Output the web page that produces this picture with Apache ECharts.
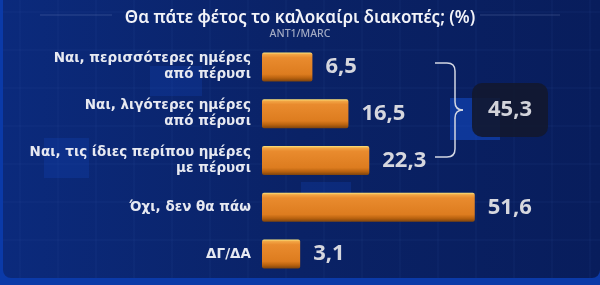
<!DOCTYPE html>
<html><head><meta charset="utf-8">
<script src="https://cdn.jsdelivr.net/npm/echarts@6/dist/echarts.min.js"></script>
<style>html,body{margin:0;padding:0;background:#0a2266;}#c{width:600px;height:285px;}</style>
</head><body><div id="c"></div>
<script>
const categories = ["Ναι, περισσότερες ημέρες\nαπό πέρυσι", "Ναι, λιγότερες ημέρες\nαπό πέρυσι", "Ναι, τις ίδιες περίπου ημέρες\nμε πέρυσι", "Όχι, δεν θα πάω", "ΔΓ/ΔΑ"];
const values = [6.5, 16.5, 22.3, 51.6, 3.1];
const yesTotal = 45.3;
const titleText = "Θα πάτε φέτος το καλοκαίρι διακοπές; (%)";
const sourceText = "ANT1/MARC";

const BASE = 7.5; // visual stub at bar start
const fmt = v => String(v).replace('.', ',');
const barGrad = new echarts.graphic.LinearGradient(0, 0, 0, 1, [
  {offset: 0, color: '#fbe57c'}, {offset: 0.07, color: '#f2a444'},
  {offset: 0.18, color: '#e98b2e'}, {offset: 0.75, color: '#dd7c1f'},
  {offset: 0.88, color: '#b9620f'}, {offset: 1, color: '#7d430d'}]);

const chart = echarts.init(document.getElementById('c'), null, {renderer: 'canvas'});
const bgLines = [];
for (let x = 20; x < 600; x += 38) bgLines.push({type: 'line', silent: true, z: -9, shape: {x1: x, y1: 0, x2: x, y2: 278}, style: {stroke: 'rgba(80,120,210,0.10)', lineWidth: 1}});
for (let y = 12; y < 278; y += 38) bgLines.push({type: 'line', silent: true, z: -9, shape: {x1: 3, y1: y, x2: 600, y2: y}, style: {stroke: 'rgba(80,120,210,0.10)', lineWidth: 1}});

const braceStyle = {stroke: '#d3d7e3', lineWidth: 1.5, fill: 'none'};
const L = (x1, y1, x2, y2) => ({type: 'line', silent: true, z: 4, shape: {x1, y1, x2, y2}, style: braceStyle});
const Q = (x1, y1, cx, cy, x2, y2) => ({type: 'bezierCurve', silent: true, z: 4, shape: {x1, y1, cpx1: cx, cpy1: cy, x2, y2}, style: braceStyle});
const brace = [
  L(435, 63, 447, 63), Q(447, 63, 455, 63, 455, 71), L(455, 71, 455, 102), Q(455, 102, 455, 110, 463, 110),
  Q(463, 110, 455, 110, 455, 118), L(455, 118, 455, 149), Q(455, 149, 455, 157, 447, 157), L(447, 157, 435, 157)
];

chart.setOption({
  animation: false,
  backgroundColor: '#0b3aa8',
  title: [
    {text: titleText, left: 'center', top: 5, textStyle: {fontFamily: 'Noto Sans', fontSize: 17, fontWeight: 600, color: '#f2f3f8'}},
    {text: sourceText, left: 'center', top: 24, textStyle: {fontFamily: 'Noto Sans', fontSize: 10.5, fontWeight: 500, color: '#a3abc4'}}
  ],
  grid: {left: 262, right: 50, top: 43.6, bottom: 7.6},
  xAxis: {type: 'value', min: 0, max: 80, show: false},
  yAxis: {type: 'category', data: categories, inverse: true,
    axisLine: {show: false}, axisTick: {show: false}, splitLine: {show: false},
    axisLabel: {margin: 11, fontFamily: 'DejaVu Sans', fontSize: 13.5, fontWeight: 700, color: '#e7e9f1', lineHeight: 16, align: 'right'}},
  graphic: [
    {type: 'rect', z: -10, silent: true, shape: {x: 3, y: -12, width: 597, height: 290, r: 8},
      style: {fill: new echarts.graphic.LinearGradient(0, 0, 1, 0, [{offset: 0, color: '#0b2a7c'}, {offset: 0.5, color: '#0a2266'}, {offset: 1, color: '#081d5c'}])}},
    ...bgLines,
    {type: 'rect', z: -8, silent: true, shape: {x: 150, y: 66, width: 52, height: 30}, style: {fill: 'rgba(20,70,190,0.25)'}},
    {type: 'rect', z: -8, silent: true, shape: {x: 44, y: 138, width: 45, height: 40}, style: {fill: 'rgba(20,70,190,0.25)'}},
    {type: 'rect', z: -8, silent: true, shape: {x: 301, y: 182, width: 50, height: 40}, style: {fill: 'rgba(20,70,190,0.25)'}},
    {type: 'rect', z: -8, silent: true, shape: {x: 450, y: 98, width: 50, height: 42}, style: {fill: 'rgba(20,80,210,0.5)'}},
    {type: 'line', silent: true, shape: {x1: 40, y1: 15, x2: 112, y2: 15}, style: {stroke: 'rgba(150,170,220,0.25)', lineWidth: 1}},
    {type: 'line', silent: true, shape: {x1: 480, y1: 15, x2: 560, y2: 15}, style: {stroke: 'rgba(150,170,220,0.25)', lineWidth: 1}},
    ...brace,
    {type: 'rect', silent: true, z: 5, shape: {x: 472, y: 83, width: 76, height: 54, r: 10}, style: {fill: 'rgba(18,24,45,0.88)'}},
    {type: 'text', silent: true, z: 6, x: 510, y: 110, style: {text: fmt(yesTotal), x: 0, y: 0, align: 'center', verticalAlign: 'middle', fontFamily: 'Noto Sans', fontSize: 22, fontWeight: 700, fill: '#d2d3da'}}
  ],
  series: [
    {type: 'bar', stack: 's', barWidth: 29, silent: true, data: values.map(() => BASE),
      itemStyle: {color: barGrad, borderRadius: [2, 0, 0, 2]}},
    {type: 'bar', stack: 's', barWidth: 29, data: values,
      itemStyle: {color: barGrad, borderRadius: [0, 2, 2, 0]},
      label: {show: true, position: 'right', distance: 13, formatter: p => fmt(p.value),
        fontFamily: 'Noto Sans', fontSize: 22, fontWeight: 700, color: '#d6d7de'}}
  ]
});
</script></body></html>
